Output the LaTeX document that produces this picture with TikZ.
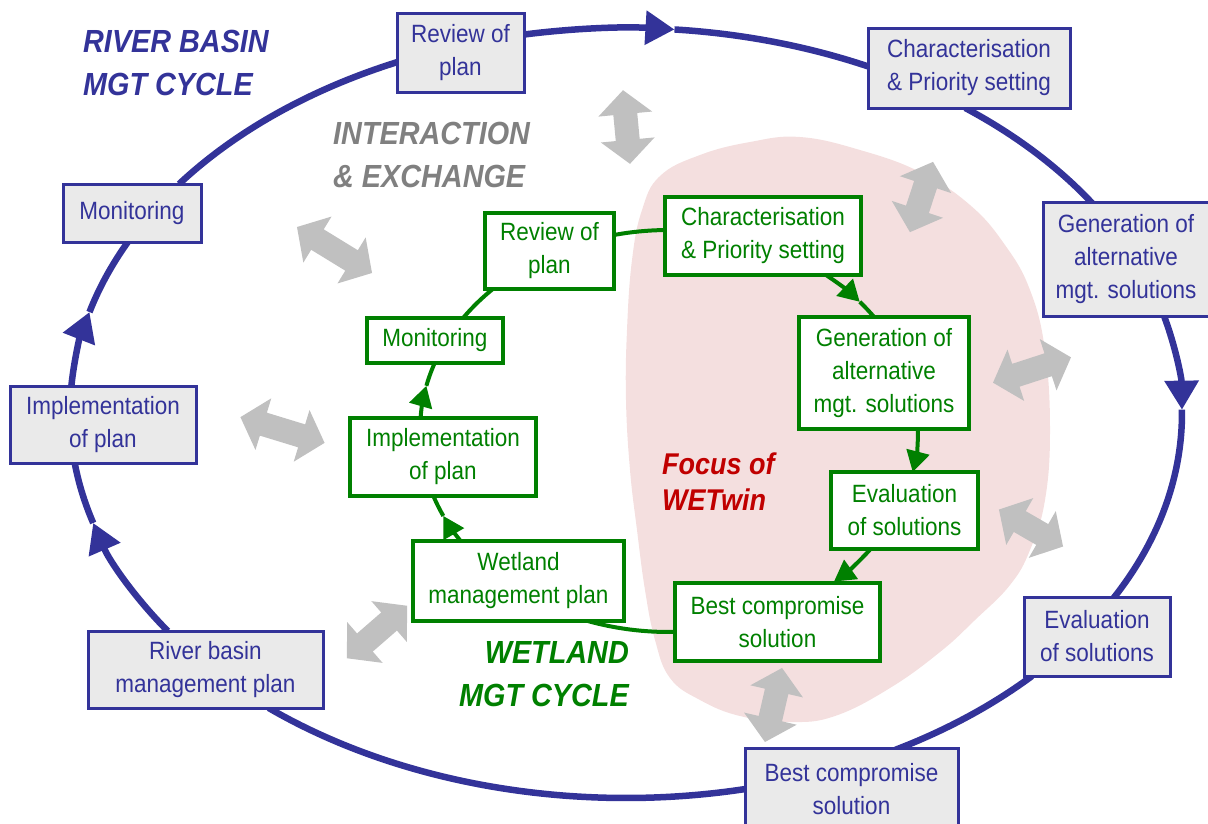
\documentclass[tikz,border=0pt]{standalone}
\usepackage{fontspec}
\setmainfont{Liberation Sans}[FakeStretch=0.9]
\usetikzlibrary{arrows.meta,calc}
\definecolor{rbblue}{HTML}{333399}
\definecolor{boxgrey}{HTML}{EAEAEA}
\definecolor{wgreen}{HTML}{008000}
\definecolor{pinkbg}{HTML}{F4DFDF}
\definecolor{arrgrey}{HTML}{C0C0C0}
\definecolor{txtgrey}{HTML}{808080}
\definecolor{focusred}{HTML}{C00000}
\begin{document}
\begin{tikzpicture}[x=1pt,y=1pt,
  rbbox/.style={draw=rbblue, line width=3pt, fill=boxgrey, text=rbblue, align=center, inner sep=0pt, font=\fontsize{25}{33}\selectfont},
  wbox/.style={draw=wgreen, line width=3.2pt, fill=white, text=wgreen, align=center, inner sep=0pt, font=\fontsize{25}{33}\selectfont},
  outer/.style={draw=rbblue, line width=6.5pt},
  inner/.style={draw=wgreen, line width=4pt},
  oarc/.style={x radius=556pt, y radius=385pt},
  garc/.style={x radius=249pt, y radius=201pt},
  otip/.style={-{Triangle[length=29pt,width=33pt]}},
  gtip/.style={-{Triangle[length=21pt,width=23pt]}},
  title/.style={font=\fontsize{32}{43}\selectfont\bfseries\itshape, inner sep=0pt},
  pics/dbl/.style={code={\fill[arrgrey] (#1,0) -- (#1-24,27) -- (#1-24,12) -- (-#1+24,12) -- (-#1+24,27) -- (-#1,0) -- (-#1+24,-27) -- (-#1+24,-12) -- (#1-24,-12) -- (#1-24,-27) -- cycle;}}
]
\useasboundingbox (0,0) rectangle (1208,-823);

% focus area
\fill[pinkbg] plot[smooth cycle, tension=0.7] coordinates {
 (800,-137) (860,-150) (920,-172) (970,-205) (1005,-245) (1030,-290) (1045,-350)
 (1050,-430) (1045,-500) (1030,-550) (1010,-585) (975,-620) (940,-652) (890,-688)
 (835,-716) (790,-722) (740,-716) (700,-700) (670,-678) (655,-640) (645,-590)
 (637,-530) (630,-470) (626,-400) (627,-330) (632,-260) (642,-210) (660,-176)
 (700,-155) (750,-142)};

% outer cycle
\coordinate (O) at (626,-413);
\path (O) ++(-259.4:556pt and 385pt) coordinate (oRevOut);
\path (O) ++(-275:556pt and 385pt) coordinate (oTipTop);
\path (O) ++(-307.6:556pt and 385pt) coordinate (oCharOut);
\path (O) ++(-345.4:556pt and 385pt) coordinate (oGenOut);
\path (O) ++(-359.5:556pt and 385pt) coordinate (oTipRight);
\path (O) ++(-403.1:556pt and 385pt) coordinate (oEvalOut);
\path (O) ++(-437.6:556pt and 385pt) coordinate (oBestOut);
\path (O) ++(-505.5:556pt and 385pt) coordinate (oRiverOut);
\path (O) ++(-523.4:556pt and 385pt) coordinate (oTipLL);
\path (O) ++(-544:556pt and 385pt) coordinate (oImplOut);
\path (O) ++(-555.2:556pt and 385pt) coordinate (oTipUL);
\path (O) ++(-576.5:556pt and 385pt) coordinate (oMonOut);

\draw[outer,otip] (oRevOut) arc[oarc, start angle=-259.4, end angle=-275];
\draw[outer] (oTipTop) arc[oarc, start angle=-275, end angle=-296];
\draw[outer] (oCharOut) arc[oarc, start angle=-307.6, end angle=-327];
\draw[outer,otip] (oGenOut) arc[oarc, start angle=-345.4, end angle=-359.5];
\draw[outer] (oTipRight) arc[oarc, start angle=-359.5, end angle=-389];
\draw[outer] (oEvalOut) arc[oarc, start angle=-403.1, end angle=-421];
\draw[outer] (oBestOut) arc[oarc, start angle=-437.6, end angle=-490];
\draw[outer,otip] (oRiverOut) arc[oarc, start angle=-505.5, end angle=-523.4];
\draw[outer] (oTipLL) arc[oarc, start angle=-523.4, end angle=-533];
\draw[outer,otip] (oImplOut) arc[oarc, start angle=-544, end angle=-555.2];
\draw[outer] (oTipUL) arc[oarc, start angle=-555.2, end angle=-567];
\draw[outer] (oMonOut) arc[oarc, start angle=-576.5, end angle=-606];

% inner (wetland) cycle
\coordinate (G) at (669,-431);
\path (G) ++(-257.2:249pt and 201pt) coordinate (gRevOut);
\path (G) ++(-309.1:249pt and 201pt) coordinate (gCharOut);
\path (G) ++(-320:249pt and 201pt) coordinate (gTip1);
\path (G) ++(-359.4:249pt and 201pt) coordinate (gGenOut);
\path (G) ++(-395.95:249pt and 201pt) coordinate (gEvalOut);
\path (G) ++(-448.6:249pt and 201pt) coordinate (gBestOut);
\path (G) ++(-506.8:249pt and 201pt) coordinate (gWetOut);
\path (G) ++(-515:249pt and 201pt) coordinate (gTip2);
\path (G) ++(-543.7:249pt and 201pt) coordinate (gImplOut);
\path (G) ++(-553:249pt and 201pt) coordinate (gTip3);
\path (G) ++(-574.2:249pt and 201pt) coordinate (gMonOut);

\draw[inner] (gRevOut) arc[garc, start angle=-257.2, end angle=-270];
\draw[inner,gtip] (gCharOut) arc[garc, start angle=-309.1, end angle=-320];
\draw[inner] (gTip1) arc[garc, start angle=-320, end angle=-326];
\draw[inner,gtip] (gGenOut) arc[garc, start angle=-359.4, end angle=-371.8];
\draw[inner,gtip] (gEvalOut) arc[garc, start angle=-395.95, end angle=-408.5];
\draw[inner] (gBestOut) arc[garc, start angle=-448.6, end angle=-469.5];
\draw[inner,gtip] (gWetOut) arc[garc, start angle=-506.8, end angle=-515];
\draw[inner] (gTip2) arc[garc, start angle=-515, end angle=-521.5];
\draw[inner,gtip] (gImplOut) arc[garc, start angle=-543.7, end angle=-553];
\draw[inner] (gTip3) arc[garc, start angle=-553, end angle=-560];
\draw[inner] (gMonOut) arc[garc, start angle=-574.2, end angle=-585.5];

% interaction arrows
\pic[rotate=-84.6] at (626.5,-127) {dbl=37};
\pic[rotate=-108.2] at (921.5,-197) {dbl=37};
\pic[rotate=18] at (1032,-370) {dbl=41};
\pic[rotate=-30] at (1031,-528) {dbl=37};
\pic[rotate=-103] at (773.5,-705) {dbl=38};
\pic[rotate=41] at (377,-632) {dbl=40};
\pic[rotate=-17] at (282.5,-430) {dbl=44};
\pic[rotate=-31.5] at (334.5,-250) {dbl=44};

% river basin boxes
\node[rbbox, minimum width=127, minimum height=79] (bRev) at (460.5,-52.5) {Review of\\plan};
\node[rbbox, minimum width=202, minimum height=80] (bChar) at (969,-68) {Characterisation\\\& Priority setting};
\node[rbbox, minimum width=166, minimum height=114] (bGen) at (1126,-259) {Generation of\\alternative\\mgt. solutions};
\node[rbbox, minimum width=146, minimum height=79] (bEval) at (1097,-636.5) {Evaluation\\of solutions};
\node[rbbox, minimum width=213, minimum height=82] (bBest) at (851.5,-789) {Best compromise\\solution};
\node[rbbox, minimum width=235, minimum height=77] (bRiver) at (205.5,-669.5) {River basin\\management plan};
\node[rbbox, minimum width=186, minimum height=77] (bImpl) at (103,-424.5) {Implementation\\of plan};
\node[rbbox, minimum width=138, minimum height=58] (bMon) at (132,-213) {Monitoring};

% wetland boxes
\node[wbox, minimum width=129, minimum height=76] (gRev) at (549.5,-251) {Review of\\plan};
\node[wbox, minimum width=136, minimum height=45] (gMon) at (435,-340.5) {Monitoring};
\node[wbox, minimum width=186, minimum height=78] (gImpl) at (443,-457) {Implementation\\of plan};
\node[wbox, minimum width=196, minimum height=78] (gChar) at (763,-236) {Characterisation\\\& Priority setting};
\node[wbox, minimum width=170, minimum height=112] (gGen) at (884,-373) {Generation of\\alternative\\mgt. solutions};
\node[wbox, minimum width=147, minimum height=77] (gEval) at (904.5,-510.5) {Evaluation\\of solutions};
\node[wbox, minimum width=205, minimum height=78] (gBest) at (777.5,-622) {Best compromise\\solution};
\node[wbox, minimum width=211, minimum height=80] (gWet) at (518.5,-581) {Wetland\\management plan};

% titles
\node[title, text=rbblue, align=left, anchor=north west] (tRiver) at (83,-30) {RIVER BASIN\\MGT CYCLE};
\node[title, text=txtgrey, align=left, anchor=north west] (tInter) at (333,-122) {INTERACTION\\\& EXCHANGE};
\node[title, text=wgreen, align=right, anchor=north east] (tWet) at (629,-641) {WETLAND\\MGT CYCLE};
\node[inner sep=0pt, font=\fontsize{30}{36}\selectfont\bfseries\itshape, text=focusred, align=left, anchor=north west] (tFocus) at (662,-453) {Focus of\\WETwin};
\end{tikzpicture}
\end{document}
